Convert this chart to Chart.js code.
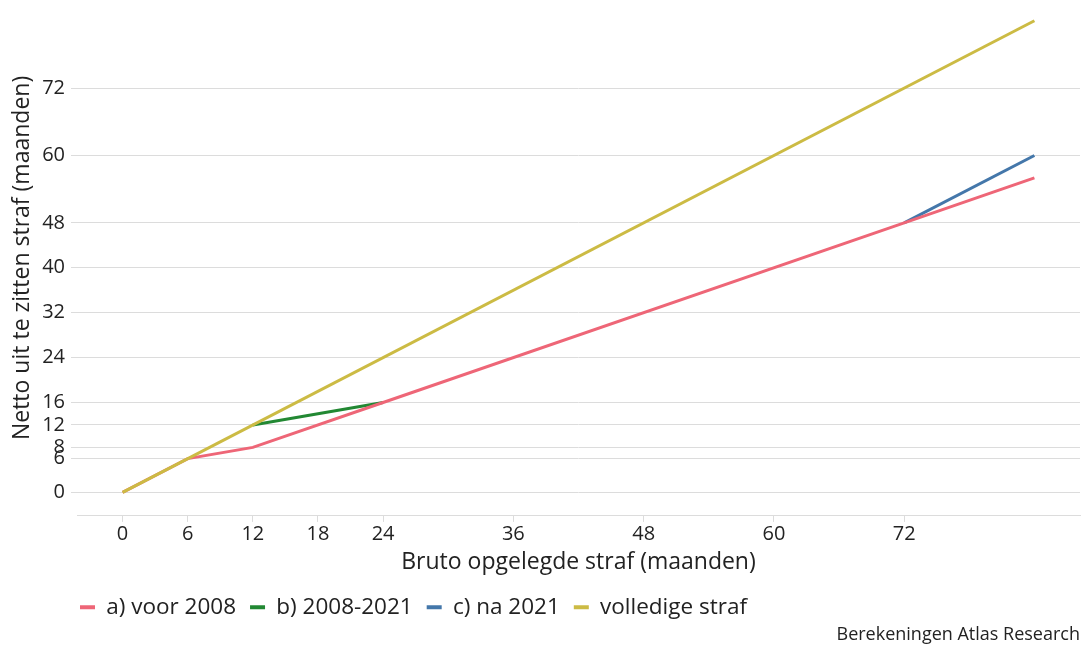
<!DOCTYPE html>
<html>
<head>
<meta charset="utf-8">
<script src="https://cdn.jsdelivr.net/npm/chart.js@4.4.1/dist/chart.umd.min.js"></script>
<style>
  html, body { margin: 0; padding: 0; background: #fff; }
  #wrap { width: 1081px; height: 646px; position: relative; }
</style>
</head>
<body>
<div id="wrap"><canvas id="myChart"></canvas></div>
<script>
// x = bruto straf, y = netto straf (maanden)
const voorX = [0, 6, 12, 24, 72, 84];
const voorY = [0, 6, 8, 16, 48, 56];
const tussenX = [12, 24];
const tussenY = [12, 16];
const naX = [72, 84];
const naY = [48, 60];
const volledigX = [0, 84];
const volledigY = [0, 84];

const xTicks = [0, 6, 12, 18, 24, 36, 48, 60, 72];
const yTicks = [0, 6, 8, 12, 16, 24, 32, 40, 48, 60, 72];

const toPoints = (xs, ys) => xs.map((x, i) => ({ x: x, y: ys[i] }));

const gridGrey = '#dcdcdc';
Chart.defaults.font.family = '"Open Sans", "Noto Sans", sans-serif';
Chart.defaults.color = '#222';

// legend sits a bit to the right and lower than chart.js puts it
const legendShift = {
    id: 'legendShift',
    afterLayout(chart) {
        const legend = chart.legend;
        legend.left = 66;
        legend.top = chart.chartArea.bottom + 66;
    }
};

let ctx = document.getElementById('myChart').getContext('2d');

const myChart = new Chart(ctx, {
    type: 'line',
    data: {
        datasets: [{
            label: 'a) voor 2008',
            data: toPoints(voorX, voorY),
            borderColor: '#EE6677',
            backgroundColor: '#EE6677',
            order: 1
        },
        {
            label: 'b) 2008-2021',
            data: toPoints(tussenX, tussenY),
            borderColor: '#228833',
            backgroundColor: '#228833',
            order: 2
        },
        {
            label: 'c) na 2021',
            data: toPoints(naX, naY),
            borderColor: '#4477AA',
            backgroundColor: '#4477AA',
            order: 3
        },
        {
            label: 'volledige straf',
            data: toPoints(volledigX, volledigY),
            borderColor: '#CCBB44',
            backgroundColor: '#CCBB44',
            order: 0
        }]
    },
    options: {
        responsive: true,
        maintainAspectRatio: false,
        animation: false,
        layout: {
            padding: { top: 0, right: 1, left: 0, bottom: 0 }
        },
        elements: {
            line: { borderWidth: 3, tension: 0 },
            point: { radius: 0 }
        },
        plugins: {
            tooltip: { enabled: false },
            legend: {
                position: 'bottom',
                align: 'start',
                labels: {
                    boxWidth: 15,
                    boxHeight: 4,
                    padding: 14,
                    font: { size: 22.5 },
                    color: '#222',
                    sort: (a, b) => a.datasetIndex - b.datasetIndex,
                    generateLabels: (chart) => {
                        const items = Chart.defaults.plugins.legend.labels.generateLabels(chart);
                        items.forEach(it => { it.lineWidth = 0; });
                        return items;
                    }
                }
            },
            subtitle: {
                display: true,
                text: 'Berekeningen Atlas Research',
                position: 'bottom',
                align: 'end',
                font: { size: 18 },
                color: '#222',
                padding: { top: 2, bottom: 0 }
            }
        },
        scales: {
            x: {
                type: 'linear',
                min: -4.2,
                max: 88.2,
                afterBuildTicks: (scale) => {
                    scale.ticks = xTicks.map(v => ({ value: v }));
                },
                afterFit: (scale) => {
                    scale.height = 60;
                    scale.paddingLeft = 0;
                    scale.paddingRight = 0;
                },
                grid: {
                    drawOnChartArea: false,
                    drawTicks: true,
                    tickLength: 6,
                    color: gridGrey
                },
                border: { display: true, color: gridGrey, width: 1 },
                ticks: {
                    autoSkip: false,
                    maxRotation: 0,
                    padding: 0,
                    font: { size: 20 }
                },
                title: {
                    display: true,
                    text: 'Bruto opgelegde straf (maanden)',
                    font: { size: 23 },
                    padding: { top: 0, bottom: 0 }
                }
            },
            y: {
                type: 'linear',
                min: -4.2,
                max: 87.7,
                afterBuildTicks: (scale) => {
                    scale.ticks = yTicks.map(v => ({ value: v }));
                },
                afterFit: (scale) => {
                    scale.width = 77;
                    scale.paddingTop = 0;
                    scale.paddingBottom = 0;
                },
                grid: {
                    drawTicks: true,
                    tickLength: 6,
                    color: gridGrey
                },
                border: { display: false },
                ticks: {
                    autoSkip: false,
                    padding: 6,
                    font: { size: 20 }
                },
                title: {
                    display: true,
                    text: 'Netto uit te zitten straf (maanden)',
                    font: { size: 23 },
                    padding: { top: 9, bottom: 0 }
                }
            }
        }
    },
    plugins: [legendShift]
});
</script>
</body>
</html>
